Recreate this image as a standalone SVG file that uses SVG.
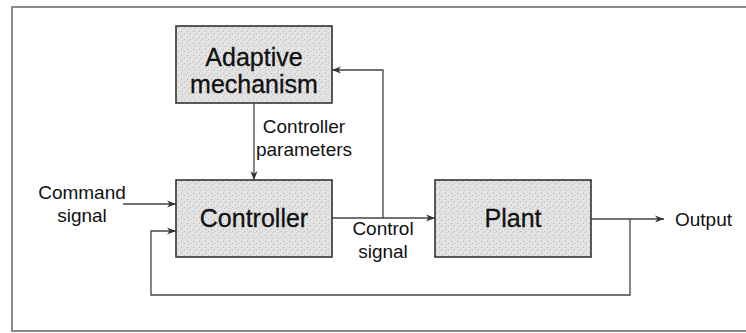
<svg xmlns="http://www.w3.org/2000/svg" width="746" height="333" viewBox="0 0 746 333">
<defs>
<marker id="arr" viewBox="0 0 10 10" refX="10" refY="5" markerWidth="9" markerHeight="9" markerUnits="userSpaceOnUse" orient="auto">
<path d="M0,1 L10,5 L0,9 L3,5 z" fill="#333"/>
</marker>
<pattern id="speck" width="6" height="6" patternUnits="userSpaceOnUse">
<rect width="6" height="6" fill="#e2e2e2"/>
<rect x="1" y="1" width="1" height="1" fill="#b0b0b0"/>
<rect x="4" y="3" width="1" height="1" fill="#bbbbbb"/>
<rect x="2" y="4" width="1" height="1" fill="#c4c4c4"/>
</pattern>
</defs>
<style>
.box{fill:url(#speck);stroke:#333;stroke-width:1.6}
.big{font-family:"Liberation Sans",Arial,sans-serif;font-size:25px;fill:#111;stroke:#111;stroke-width:0.3;text-anchor:middle}
.lbl{font-family:"Liberation Sans",Arial,sans-serif;font-size:19px;fill:#111;text-anchor:middle}
.ln{fill:none;stroke:#444;stroke-width:1.3}
</style>
<rect x="0" y="0" width="746" height="333" fill="#fff"/>
<rect x="12" y="7" width="736" height="324" fill="none" stroke="#8a8a8a" stroke-width="2"/>
<g id="adaptive">
<rect class="box" x="176" y="26" width="156" height="77"/>
<text class="big" x="254" y="66">Adaptive</text>
<text class="big" x="254" y="93">mechanism</text>
</g>
<g id="controller">
<rect class="box" x="176" y="180" width="156" height="77"/>
<text class="big" x="254" y="227">Controller</text>
</g>
<g id="plant">
<rect class="box" x="435" y="180" width="156" height="77"/>
<text class="big" x="513" y="227">Plant</text>
</g>
<g id="connectors">
<line class="ln" x1="254" y1="103" x2="254" y2="180" marker-end="url(#arr)"/>
<line class="ln" x1="123" y1="204" x2="176" y2="204" marker-end="url(#arr)"/>
<polyline class="ln" points="630,219 630,295 151,295 151,231 176,231" marker-end="url(#arr)"/>
<line class="ln" x1="332" y1="218" x2="435" y2="218" marker-end="url(#arr)"/>
<polyline class="ln" points="383,218 383,70 332,70" marker-end="url(#arr)"/>
<line class="ln" x1="591" y1="219" x2="664" y2="219" marker-end="url(#arr)"/>
</g>
<g id="labels">
<text class="lbl" x="304" y="133">Controller</text>
<text class="lbl" x="304" y="156">parameters</text>
<text class="lbl" x="82" y="199">Command</text>
<text class="lbl" x="82" y="222">signal</text>
<text class="lbl" x="383" y="235">Control</text>
<text class="lbl" x="383" y="258">signal</text>
<text class="lbl" x="675" y="226" style="text-anchor:start">Output</text>
</g>
</svg>
